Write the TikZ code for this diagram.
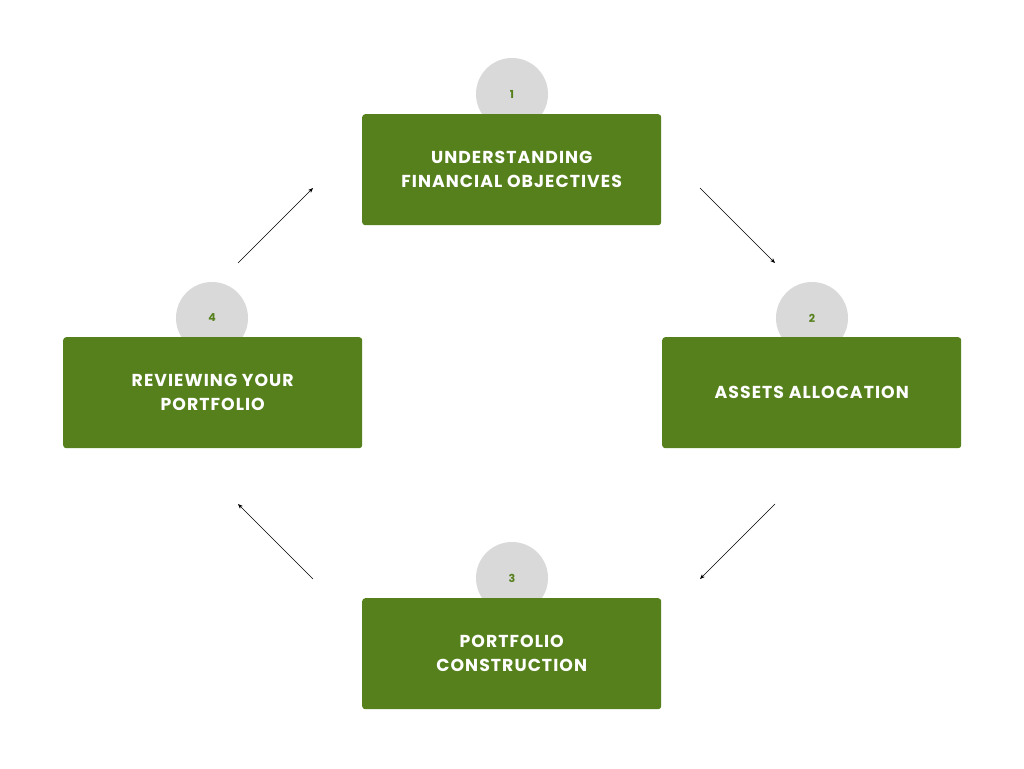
\documentclass[tikz,border=0pt]{standalone}
\usepackage{fontspec}
\setmainfont{Poppins}[UprightFont=* SemiBold, BoldFont=* Bold]
\newfontfamily\boxfont{Poppins Bold}[LetterSpace=6]
\usetikzlibrary{arrows.meta}
\definecolor{boxgreen}{HTML}{55801C}
\definecolor{circgray}{HTML}{D9D9D9}
\tikzset{
  stepbox/.style={fill=boxgreen, rounded corners=3pt, minimum width=299pt, minimum height=111pt, inner sep=0pt, text=white, align=center, font=\boxfont\fontsize{17.3}{24}\selectfont, anchor=north west},
  numcirc/.style={circle, fill=circgray, minimum size=72pt, inner sep=0pt, text=boxgreen, font=\fontsize{11}{12}\selectfont\bfseries},
  conn/.style={-{Stealth[length=5pt,width=4pt]}, line width=0.6pt, black}
}
\begin{document}
\begin{tikzpicture}[x=1pt,y=-1pt]
\useasboundingbox[fill=white] (0,0) rectangle (1024,768);
\node[numcirc] (c1) at (512,94) {1};
\node[numcirc] (c2) at (812,318) {2};
\node[numcirc] (c3) at (512,578) {3};
\node[numcirc] (c4) at (212,318) {4};
\node[stepbox] (b1) at (362,114) {UNDERSTANDING\\FINANCIAL OBJECTIVES};
\node[stepbox] (b2) at (662,337) {ASSETS ALLOCATION};
\node[stepbox] (b3) at (362,598) {PORTFOLIO\\CONSTRUCTION};
\node[stepbox] (b4) at (63,337) {REVIEWING YOUR\\PORTFOLIO};
\coordinate (a1s) at (700,188); \coordinate (a1e) at (775,263);
\coordinate (a2s) at (775,504); \coordinate (a2e) at (700,579);
\coordinate (a3s) at (313,579); \coordinate (a3e) at (238,504);
\coordinate (a4s) at (238,263); \coordinate (a4e) at (313,188);
\draw[conn] (a1s) -- (a1e);
\draw[conn] (a2s) -- (a2e);
\draw[conn] (a3s) -- (a3e);
\draw[conn] (a4s) -- (a4e);
\end{tikzpicture}
\end{document}
